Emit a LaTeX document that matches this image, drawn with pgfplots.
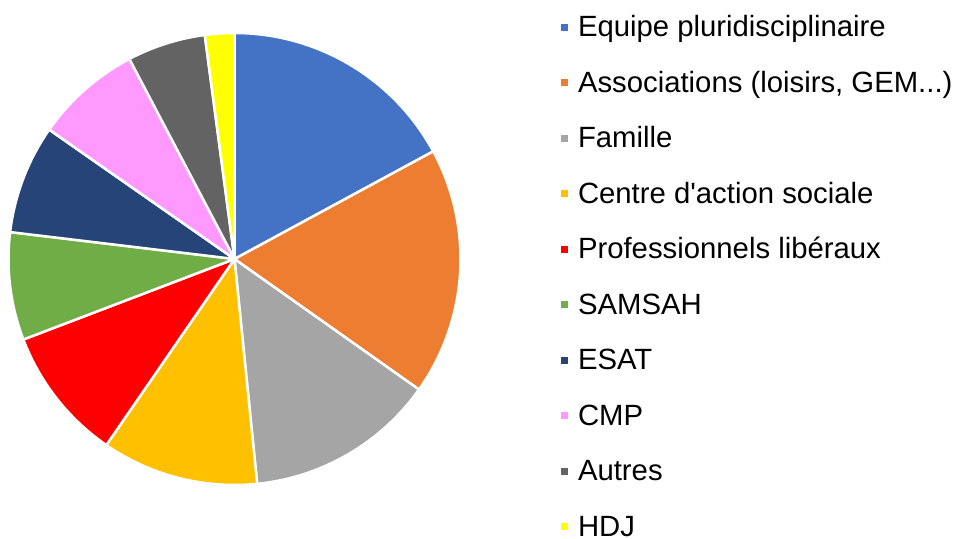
\documentclass[border=0pt]{standalone}
\usepackage{fontspec}
\setmainfont{Liberation Sans}[Ligatures=TeXOff]
\usepackage{pgfplots}
\usepackage{pgfplotstable}
\pgfplotsset{compat=1.18}

\definecolor{cBlue}{HTML}{4472C4}
\definecolor{cOrange}{HTML}{ED7D31}
\definecolor{cGrey}{HTML}{A5A5A5}
\definecolor{cGold}{HTML}{FFC000}
\definecolor{cRed}{HTML}{FF0000}
\definecolor{cGreen}{HTML}{70AD47}
\definecolor{cNavy}{HTML}{264478}
\definecolor{cPink}{HTML}{FF99FF}
\definecolor{cDGrey}{HTML}{636363}
\definecolor{cYellow}{HTML}{FFFF00}

% shares in percent, clockwise from 12 o'clock
\pgfplotstableread{
share colour label
17.1 cBlue {Equipe pluridisciplinaire}
17.7 cOrange {Associations (loisirs, GEM...)}
13.6 cGrey {Famille}
11.2 cGold {Centre d'action sociale}
9.6 cRed {Professionnels libéraux}
7.7 cGreen {SAMSAH}
7.8 cNavy {ESAT}
7.6 cPink {CMP}
5.6 cDGrey {Autres}
2.1 cYellow {HDJ}
}\piedata

\begin{document}
\begin{tikzpicture}
\path[use as bounding box] (0,0) rectangle (955bp,539bp);
\begin{scope}[overlay]
\begin{axis}[
  at={(0,0)}, anchor=south west,
  scale only axis,
  width=955bp, height=539bp,
  xmin=0, xmax=955, ymin=0, ymax=539,
  hide axis, clip=false,
  legend image code/.code={\fill[#1, draw=none] (0bp,-1.8bp) rectangle (7bp,5.2bp);},
  legend cell align=left,
  legend style={
    at={(axis cs:561,523.3)}, anchor=north west,
    draw=none, fill=none, inner sep=0pt, outer sep=0pt,
    row sep=28.5bp, column sep=10bp,
    font=\fontsize{29.3bp}{34bp}\selectfont,
    nodes={inner sep=0pt, text height=21bp, text depth=6bp},
  },
]
\xdef\angA{90}
\pgfplotsforeachungrouped \ii in {0,...,9}{
  \pgfplotstablegetelem{\ii}{share}\of\piedata \let\pieval=\pgfplotsretval
  \pgfplotstablegetelem{\ii}{colour}\of\piedata \let\piecol=\pgfplotsretval
  \pgfplotstablegetelem{\ii}{label}\of\piedata \let\pielbl=\pgfplotsretval
  \pgfmathsetmacro\angB{\angA-3.6*\pieval}
  \edef\cmd{%
    \noexpand\fill[\piecol, draw=white, line width=2.5bp, line join=round]
      (axis cs:234.5,280) -- ++(\angA:226bp)
      arc[start angle=\angA, end angle=\angB, radius=226bp] -- cycle;
    \noexpand\addlegendimage{fill=\piecol}
    \noexpand\addlegendentry{\pielbl}%
  }
  \cmd
  \xdef\angA{\angB}
}
\end{axis}
\end{scope}
\end{tikzpicture}
\end{document}
